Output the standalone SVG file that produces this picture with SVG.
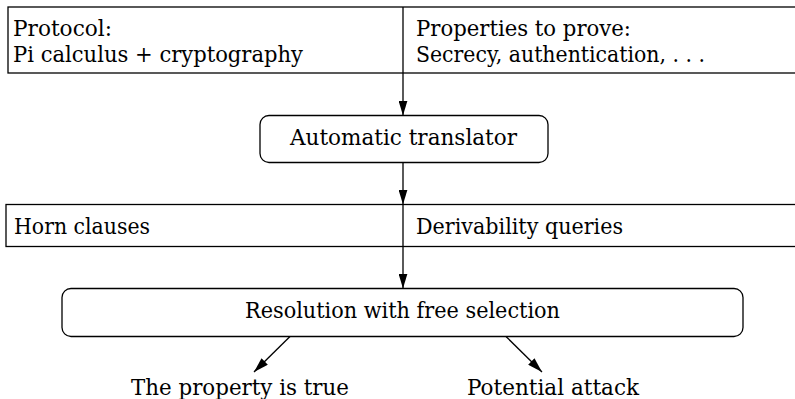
<svg xmlns="http://www.w3.org/2000/svg" width="795" height="399" viewBox="0 0 795 399">
<style>
  .box { fill: #fff; stroke: #000; stroke-width: 1.3; }
  .ln { stroke: #000; stroke-width: 1.3; fill: none; }
  text { font-family: "DejaVu Serif", "Liberation Serif", serif; font-size: 23px; fill: #000; }
</style>
<defs>
  <marker id="ahl" viewBox="0 0 15 9" refX="15" refY="4.5" markerWidth="15" markerHeight="9" markerUnits="userSpaceOnUse" orient="auto">
    <path d="M0,0 L15,4.5 L0,9 z" fill="#000"/>
  </marker>
</defs>
<g id="input">
  <rect class="box" x="8" y="7" width="800" height="66"/>
  <line class="ln" x1="403" y1="7" x2="403" y2="73"/>
  <text x="13" y="36" textLength="99" lengthAdjust="spacingAndGlyphs">Protocol:</text>
  <text x="13" y="62" textLength="290" lengthAdjust="spacingAndGlyphs">Pi calculus + cryptography</text>
  <text x="416" y="36" textLength="215" lengthAdjust="spacingAndGlyphs">Properties to prove:</text>
  <text x="416" y="62" textLength="289" lengthAdjust="spacingAndGlyphs">Secrecy, authentication, . . .</text>
</g>
<g id="translator">
  <rect class="box" x="260" y="115.5" width="288" height="47" rx="9" ry="9"/>
  <text x="290" y="145" textLength="227" lengthAdjust="spacingAndGlyphs">Automatic translator</text>
</g>
<g id="clauses">
  <rect class="box" x="6" y="204.5" width="800" height="42"/>
  <line class="ln" x1="403" y1="204.5" x2="403" y2="246.5"/>
  <text x="14" y="234" textLength="136" lengthAdjust="spacingAndGlyphs">Horn clauses</text>
  <text x="416" y="234" textLength="207" lengthAdjust="spacingAndGlyphs">Derivability queries</text>
</g>
<g id="resolution">
  <rect class="box" x="62" y="288.5" width="681" height="48" rx="9" ry="9"/>
  <text x="245" y="318" textLength="315" lengthAdjust="spacingAndGlyphs">Resolution with free selection</text>
</g>
<g id="true">
  <text x="131" y="395" textLength="218" lengthAdjust="spacingAndGlyphs">The property is true</text>
</g>
<g id="attack">
  <text x="467" y="395" textLength="172" lengthAdjust="spacingAndGlyphs">Potential attack</text>
</g>
<g id="connectors">
  <line class="ln" x1="403" y1="73" x2="403" y2="115.5" marker-end="url(#ahl)"/>
  <line class="ln" x1="403" y1="162.5" x2="403" y2="204.5" marker-end="url(#ahl)"/>
  <line class="ln" x1="403" y1="246.5" x2="403" y2="288.5" marker-end="url(#ahl)"/>
  <line class="ln" x1="290" y1="336.5" x2="254" y2="372" marker-end="url(#ahl)"/>
  <line class="ln" x1="506" y1="336.5" x2="542" y2="372" marker-end="url(#ahl)"/>
</g>
</svg>
